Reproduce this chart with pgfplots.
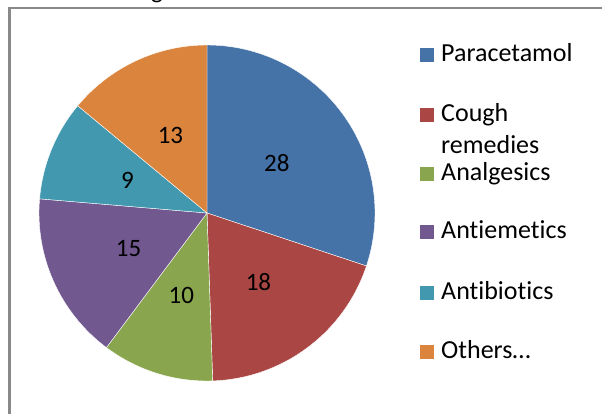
\documentclass[border=0pt]{standalone}
\usepackage{pgfplots}
\pgfplotsset{compat=1.18}
\usepackage{pgfplotstable}
\usepackage{fontspec}
\setmainfont{Carlito}[Ligatures={NoCommon}]
\definecolor{pie0}{HTML}{4572A7}
\definecolor{pie1}{HTML}{AA4643}
\definecolor{pie2}{HTML}{89A54E}
\definecolor{pie3}{HTML}{71588F}
\definecolor{pie4}{HTML}{4198AF}
\definecolor{pie5}{HTML}{DB843D}
\definecolor{framegray}{HTML}{898989}

\pgfplotstableread[col sep=comma]{
name,value
Paracetamol,28
Cough remedies,18
Analgesics,10
Antiemetics,15
Antibiotics,9
Others,13
}\piedata

% pie centre and radius (axis units = pt)
\def\cx{207}
\def\cy{200}
\def\rad{168}
\def\lr{86}

% total
\gdef\pietotal{0}
\foreach \i in {0,...,5}{%
  \pgfplotstablegetelem{\i}{value}\of\piedata
  \pgfmathsetmacro\t{\pietotal+\pgfplotsretval}%
  \xdef\pietotal{\t}%
}%
% angles (clockwise from 90 degrees)
\gdef\acc{90}%
\foreach \i in {0,...,5}{%
  \pgfplotstablegetelem{\i}{value}\of\piedata
  \let\v\pgfplotsretval
  \pgfmathsetmacro\s{\acc}%
  \pgfmathsetmacro\e{\acc-360*\v/\pietotal}%
  \pgfmathsetmacro\m{(\s+\e)/2}%
  \pgfmathsetmacro\lx{\cx+\lr*cos(\m)}%
  \pgfmathsetmacro\ly{\cy+\lr*sin(\m)}%
  \expandafter\xdef\csname pieS\i\endcsname{\s}%
  \expandafter\xdef\csname pieE\i\endcsname{\e}%
  \expandafter\xdef\csname pieX\i\endcsname{\lx}%
  \expandafter\xdef\csname pieY\i\endcsname{\ly}%
  \expandafter\xdef\csname pieV\i\endcsname{\v}%
  \xdef\acc{\e}%
}%

\begin{document}%
\begin{tikzpicture}
\begin{axis}[
  width=602pt, height=413pt, scale only axis,
  xmin=0, xmax=602, ymin=0, ymax=413,
  hide axis, clip=false,
]
\coordinate (ll) at (axis cs:0,0);
\coordinate (ur) at (axis cs:602,413);
% frame (cropped chart area)
\draw[framegray, line width=2.5pt] (axis cs:9.7,-10) -- (axis cs:9.7,405.2) -- (axis cs:620,405.2);
% partially visible title
\node[anchor=base, font=\fontsize{25}{30}\selectfont] at (axis cs:157,414.5) {g};
% slices
\pgfplotsinvokeforeach{0,...,5}{%
  \filldraw[fill=pie#1, draw=white, line width=0.4pt]
    (axis cs:\cx,\cy) -- ++(\csname pieS#1\endcsname:\rad pt)
    arc[start angle=\csname pieS#1\endcsname, end angle=\csname pieE#1\endcsname, radius=\rad pt] -- cycle;
}
\pgfplotsinvokeforeach{0,...,5}{%
  \node[font=\fontsize{25}{30}\selectfont, inner sep=0pt] at (axis cs:\csname pieX#1\endcsname,\csname pieY#1\endcsname) {\csname pieV#1\endcsname};
}
% legend
\fill[pie0] (axis cs:420,351) rectangle (axis cs:434,365);
\fill[pie1] (axis cs:420,291) rectangle (axis cs:434,305);
\fill[pie2] (axis cs:420,232.5) rectangle (axis cs:434,246.5);
\fill[pie3] (axis cs:420,174) rectangle (axis cs:434,188);
\fill[pie4] (axis cs:420,113.5) rectangle (axis cs:434,127.5);
\fill[pie5] (axis cs:420,54) rectangle (axis cs:434,68);
\begin{scope}[every node/.style={anchor=base west, inner sep=0pt, font=\fontsize{26}{30}\selectfont}]
\node at (axis cs:441,351.5) {Paracetamol};
\node at (axis cs:441,291.3) {Cough};
\node at (axis cs:441,259.7) {remedies};
\node at (axis cs:441,233) {Analgesics};
\node at (axis cs:441,174.7) {Antiemetics};
\node at (axis cs:441,114) {Antibiotics};
\node at (axis cs:441,54.7) {Others…};
\end{scope}
\end{axis}
\pgfresetboundingbox
\useasboundingbox (ll) rectangle (ur);
\end{tikzpicture}%
\end{document}
